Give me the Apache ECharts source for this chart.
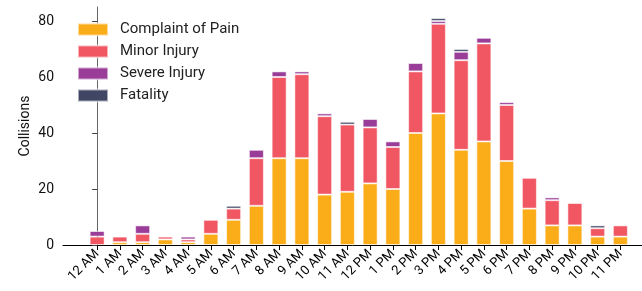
<!DOCTYPE html>
<html>
<head>
<meta charset="utf-8">
<script src="https://cdn.jsdelivr.net/npm/echarts@6/dist/echarts.min.js"></script>
<style>
html,body{margin:0;padding:0;background:#fff;}
#chart{width:642px;height:291px;}
</style>
</head>
<body>
<div id="chart"></div>
<script>
const hours = ['12 AM','1 AM','2 AM','3 AM','4 AM','5 AM','6 AM','7 AM','8 AM','9 AM','10 AM','11 AM','12 PM','1 PM','2 PM','3 PM','4 PM','5 PM','6 PM','7 PM','8 PM','9 PM','10 PM','11 PM'];
const complaintOfPain = [0,1,1,2,1,4,9,14,31,31,18,19,22,20,40,47,34,37,30,13,7,7,3,3];
const minorInjury     = [3,2,3,1,1,5,4,17,29,30,28,24,20,15,22,32,32,35,20,11,9,8,3,4];
const severeInjury    = [2,0,3,0,1,0,0,3,2,1,1,0,3,2,3,1,3,2,1,0,1,0,0,0];
const fatality        = [0,0,0,0,0,0,1,0,0,0,0,1,0,0,0,1,1,0,0,0,0,0,1,0];
const yTicks = [0,20,40,60,80];

const seriesDefs = [
  {name:'Complaint of Pain', values: complaintOfPain, color:'#FBAD19'},
  {name:'Minor Injury', values: minorInjury, color:'#F15663'},
  {name:'Severe Injury', values: severeInjury, color:'#9A3D98'},
  {name:'Fatality', values: fatality, color:'#404663'}
];
const idx = hours.map((h,i)=>i);
const font = 'Roboto';

const chart = echarts.init(document.getElementById('chart'), null, {renderer:'canvas'});
chart.setOption({
  animation:false,
  backgroundColor:'#fff',
  textStyle:{fontFamily:font},
  grid:{left:63, right:0, top:7, bottom:46, containLabel:false},
  legend:{
    orient:'vertical', left:72, top:17, itemWidth:30, itemHeight:12, itemGap:7,
    icon:'rect',
    textStyle:{fontFamily:font, fontSize:15, color:'#222', padding:[0,0,0,7]},
    data: seriesDefs.map(s=>s.name)
  },
  xAxis:{
    type:'value', min:-1.5, max:23.95,
    axisLine:{show:true, lineStyle:{color:'#000', width:1}},
    axisTick:{show:true, length:5, lineStyle:{color:'#000'}, customValues: idx},
    axisLabel:{customValues: idx, rotate:45, fontFamily:font, fontSize:13, color:'#000', margin:7,
      formatter:(v)=>hours[v] ?? ''},
    splitLine:{show:false}
  },
  yAxis:{
    type:'value', min:0, max:85,
    name:'Collisions', nameLocation:'middle', nameGap:31, nameMoveOverlap:false,
    nameTextStyle:{fontFamily:font, fontSize:14, color:'#111'},
    axisLine:{show:true, lineStyle:{color:'#666', width:1}},
    axisTick:{show:true, length:5, lineStyle:{color:'#444'}, customValues: yTicks},
    axisLabel:{customValues: yTicks, fontFamily:font, fontSize:14, color:'#111', margin:9},
    splitLine:{show:false}
  },
  series: seriesDefs.map(s=>({
    name:s.name, type:'bar', stack:'total', barWidth:15,
    encode:{x:1, y:0},
    itemStyle:{color:s.color, borderColor:'rgba(255,255,255,0.55)', borderWidth:1},
    data: idx.map(i=>({value:[s.values[i], i], itemStyle: s.values[i] === 0 ? {borderWidth:0, opacity:0} : undefined}))
  }))
});
</script>
</body>
</html>
